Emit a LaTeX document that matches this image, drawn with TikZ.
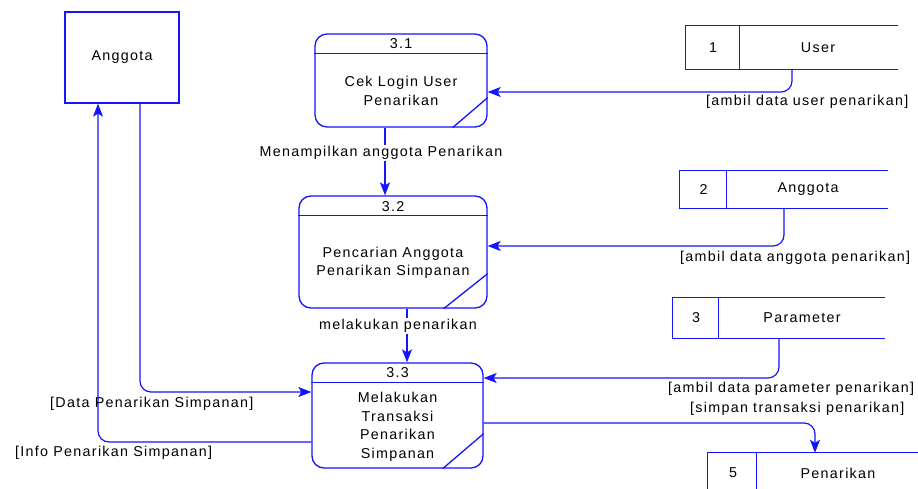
\documentclass[tikz,border=0pt]{standalone}
\usepackage{fontspec}
\setmainfont{Liberation Sans}[LetterSpace=9]
\usetikzlibrary{arrows.meta}
\definecolor{dfdblue}{RGB}{20,20,255}
\tikzset{
  lbl/.style={font=\fontsize{14.3}{18.5}\selectfont, text=black, inner sep=1pt},
  proc/.style={draw=dfdblue, line width=1.3pt, rounded corners=12pt, rectangle, inner sep=0pt},
  extent/.style={draw=dfdblue, line width=1.3pt, rectangle, inner sep=0pt},
  store/.style={rectangle, inner sep=0pt},
  edge/.style={dfdblue, line width=1.3pt},
  flow/.style={dfdblue, line width=1.2pt, rounded corners=11pt, -{Stealth[length=13pt,width=10pt,inset=3pt]}},
  cover/.style={lbl, fill=white},
}
\begin{document}
\begin{tikzpicture}[x=1pt,y=-1pt]
\useasboundingbox (0,0) rectangle (918,489);
\clip (0,0) rectangle (918,489);

% external entity
\node[extent, minimum width=114pt, minimum height=91pt] (ang) at (122,57.5) {};
\node[lbl] (angt) at (ang.center) {Anggota};

% processes
\node[proc, minimum width=172pt, minimum height=93pt] (p31) at (401,80.5) {};
\draw[edge] ([yshift=-20pt]p31.north west) -- ([yshift=-20pt]p31.north east);
\draw[edge] ([xshift=-35pt]p31.south east) -- ([yshift=30pt]p31.south east);
\node[lbl] (p31n) at (401,44) {3.1};
\node[lbl, align=center] (p31t) at (401,91) {Cek Login User\\Penarikan};

\node[proc, minimum width=188pt, minimum height=112pt] (p32) at (393,252) {};
\draw[edge] ([yshift=-20pt]p32.north west) -- ([yshift=-20pt]p32.north east);
\draw[edge] ([xshift=-44pt]p32.south east) -- ([yshift=35pt]p32.south east);
\node[lbl] (p32n) at (393,207) {3.2};
\node[lbl, align=center] (p32t) at (393,263) {Pencarian Anggota\\Penarikan Simpanan};

\node[proc, minimum width=171pt, minimum height=105pt] (p33) at (397.5,415.5) {};
\draw[edge] ([yshift=-20pt]p33.north west) -- ([yshift=-20pt]p33.north east);
\draw[edge] ([xshift=-41pt]p33.south east) -- ([yshift=35pt]p33.south east);
\node[lbl] (p33n) at (397.5,373) {3.3};
\node[lbl, align=center] (p33t) at (397.5,427) {Melakukan\\Transaksi\\Penarikan\\Simpanan};

% data stores
\node[store, minimum width=212pt, minimum height=43pt] (d1) at (792,47.5) {};
\draw[edge] (d1.north east) -- (d1.north west) -- (d1.south west) -- (d1.south east);
\draw[edge] ([xshift=54pt]d1.north west) -- ([xshift=54pt]d1.south west);
\node[lbl] (d1n) at (713,47.5) {1};
\node[lbl] (d1t) at (818,47.5) {User};

\node[store, minimum width=208pt, minimum height=37pt] (d2) at (784,189.5) {};
\draw[edge] (d2.north east) -- (d2.north west) -- (d2.south west) -- (d2.south east);
\draw[edge] ([xshift=47pt]d2.north west) -- ([xshift=47pt]d2.south west);
\node[lbl] (d2n) at (703.5,189.5) {2};
\node[lbl] (d2t) at (808,189.5) {Anggota};

\node[store, minimum width=212pt, minimum height=40pt] (d3) at (779,318) {};
\draw[edge] (d3.north east) -- (d3.north west) -- (d3.south west) -- (d3.south east);
\draw[edge] ([xshift=46pt]d3.north west) -- ([xshift=46pt]d3.south west);
\node[lbl] (d3n) at (696,318) {3};
\node[lbl] (d3t) at (802,318) {Parameter};

\node[store, minimum width=214pt, minimum height=40pt] (d5) at (815,473) {};
\draw[edge] (d5.north east) -- (d5.north west) -- ([yshift=-30pt]d5.south west);
\draw[edge] ([xshift=49pt]d5.north west) -- ([xshift=49pt,yshift=-30pt]d5.south west);
\node[lbl] (d5n) at (733,473) {5};
\node[lbl] (d5t) at (838,473) {Penarikan};

% data flows
\draw[flow] (d1.south) |- ([yshift=-11.5pt]p31.east);
\draw[flow] (d2.south) |- ([yshift=6pt]p32.east);
\draw[flow] (d3.south) |- ([yshift=37.5pt]p33.east);
\draw[flow] ([yshift=-7.5pt]p33.east) -| (d5.north);
\draw[flow] ([xshift=18pt]ang.south) |- ([yshift=23.5pt]p33.west);
\draw[flow] ([yshift=-26.5pt]p33.west) -| ([xshift=-24pt]ang.south);
\draw[flow] ([xshift=-16pt]p31.south) -- ([xshift=-16pt]p31.south |- p32.north);
\draw[flow] ([xshift=14pt]p32.south) -- ([xshift=14pt]p32.south |- p33.north);

% flow labels
\node[cover] (f1) at (381,153) {Menampilkan anggota Penarikan};
\node[cover] (f2) at (398,326) {melakukan penarikan};
\node[lbl, anchor=west] (f3) at (705,102) {[ambil data user penarikan]};
\node[lbl, anchor=west] (f4) at (679,258) {[ambil data anggota penarikan]};
\node[lbl, anchor=west] (f5) at (667,389) {[ambil data parameter penarikan]};
\node[lbl, anchor=west] (f6) at (689,409) {[simpan transaksi penarikan]};
\node[lbl, anchor=west] (f7) at (49,404) {[Data Penarikan Simpanan]};
\node[lbl, anchor=west] (f8) at (14,453) {[Info Penarikan Simpanan]};
\end{tikzpicture}
\end{document}
